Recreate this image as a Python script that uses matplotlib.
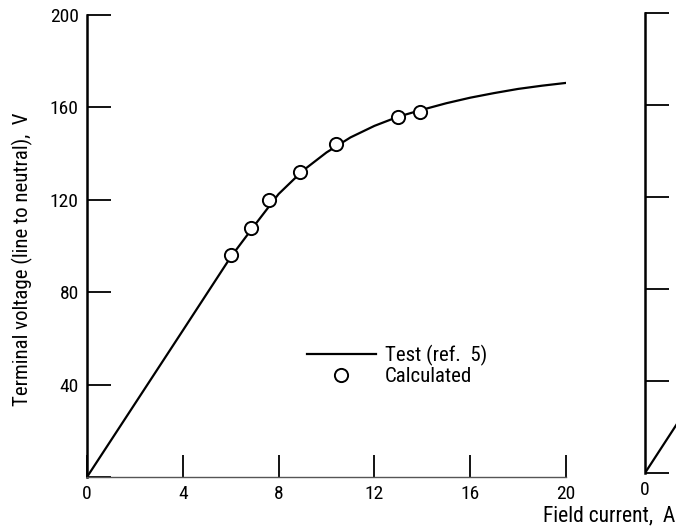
import matplotlib
matplotlib.use('Agg')
import matplotlib.pyplot as plt
from matplotlib.lines import Line2D
from matplotlib import font_manager

names = {f.name for f in font_manager.fontManager.ttflist}
cond = [n for n in ['Liberation Sans Narrow', 'Roboto Condensed', 'Open Sans Condensed'] if n in names]
plt.rcParams['font.family'] = cond + ['DejaVu Sans']
plt.rcParams['font.stretch'] = 'condensed'

# test curve (ref. 5), field current A vs terminal voltage V
test_current = [0, 2, 4, 6, 7, 8, 9, 10, 11, 12, 13, 14, 15, 16, 17, 18, 19, 20]
test_voltage = [0, 31.7, 63.4, 95.2, 109, 122.5, 132.5, 140.5, 147, 152, 156, 159, 161.8, 164.2, 166.2, 168, 169.4, 170.6]

# calculated points
calc_current = [6.0, 6.85, 7.6, 8.9, 10.4, 13.0, 13.9]
calc_voltage = [96, 108, 120, 132, 144, 156, 158]

# right-hand panel, cut off at the page edge
right_current = [0, 2]
right_voltage = [0, 32]

x_ticks = [0, 4, 8, 12, 16, 20]
y_ticks = [0, 40, 80, 120, 160, 200]

fig = plt.figure(figsize=(6.76, 5.28), dpi=100)
ax = fig.add_axes([87 / 676, 51 / 528, 479 / 676, 462 / 528])

ax.plot(test_current, test_voltage, color='black', lw=1.6, zorder=2)
ax.plot(calc_current, calc_voltage, 'o', ms=9.5, mfc='white', mec='black', mew=1.4, zorder=3)

ax.set_xlim(0, 20)
ax.set_ylim(0, 200)
ax.set_xticks(x_ticks)
ax.set_yticks(y_ticks)
ax.set_yticklabels(['', '40', '80', '120', '160', '200'])
ax.tick_params(axis='y', direction='in', length=17, width=1.3, labelsize=14, pad=6)
ax.tick_params(axis='x', direction='in', length=16, width=1.3, labelsize=14, pad=6)
for s in ['top', 'right']:
    ax.spines[s].set_visible(False)
ax.spines['left'].set_linewidth(1.8)
ax.spines['bottom'].set_linewidth(1.0)
ax.spines['bottom'].set_color('#555555')
ax.set_ylabel('Terminal voltage (line to neutral),  V', fontsize=15)
ax.yaxis.set_label_coords(-54 / 479, (477 - 259) / 462)

handles = [Line2D([], [], color='black', lw=1.6),
           Line2D([], [], ls='none', marker='o', ms=9.5, mfc='white', mec='black', mew=1.4)]
ax.legend(handles, ['Test (ref.  5)', 'Calculated'], frameon=False, fontsize=15,
          handlelength=3.3, handletextpad=0.45, labelspacing=0.05,
          loc='upper left', bbox_to_anchor=(201 / 479, 151 / 462))

# partial second panel
ax2 = fig.add_axes([645 / 676, 55 / 528, 479 / 676, 460 / 528])
ax2.plot(right_current, right_voltage, color='black', lw=1.6)
ax2.set_xlim(0, 20)
ax2.set_ylim(0, 200)
ax2.set_xticks([0])
ax2.set_yticks(y_ticks)
ax2.set_yticklabels([])
ax2.tick_params(axis='y', direction='in', length=17, width=1.3)
ax2.tick_params(axis='x', length=0, labelsize=14, pad=6)
for s in ['top', 'right', 'bottom']:
    ax2.spines[s].set_visible(False)
ax2.spines['left'].set_linewidth(1.8)

fig.text(675 / 676, 12 / 528, 'Field current,  A', fontsize=15.5, ha='right', va='center')

fig.savefig('out.png', dpi=100)
